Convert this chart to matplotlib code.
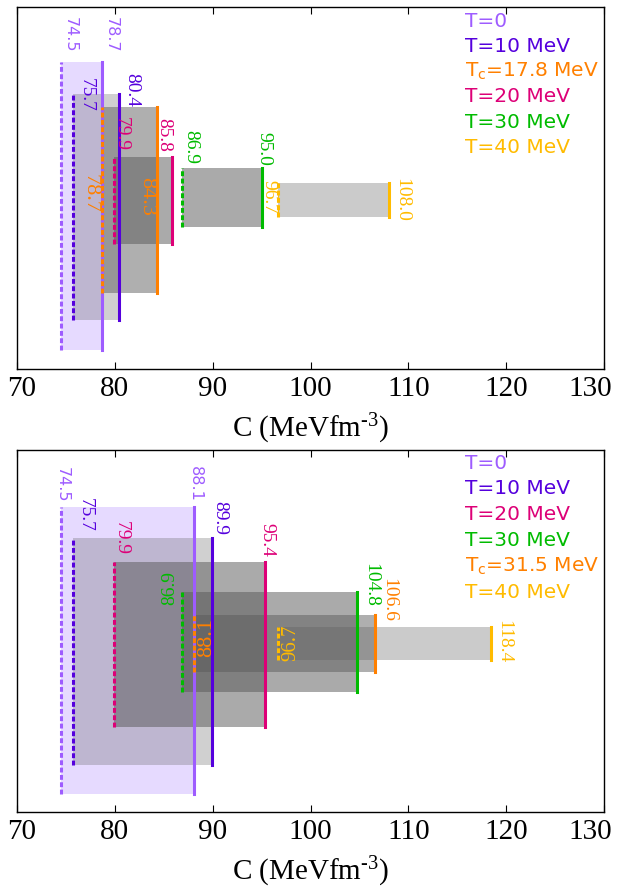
import matplotlib
matplotlib.use("Agg")
import matplotlib.pyplot as plt
from matplotlib.patches import Rectangle
from matplotlib.transforms import blended_transform_factory, ScaledTranslation

plt.rcParams["mathtext.fontset"] = "custom"
plt.rcParams["mathtext.rm"] = "Liberation Serif"
plt.rcParams["mathtext.it"] = "Liberation Serif:italic"

# ---- panel 1 ----
top_names = ["T=0", "T=10 MeV", "T$_\\mathrm{c}$=17.8 MeV", "T=20 MeV", "T=30 MeV", "T=40 MeV"]
top_lower = [74.5, 75.7, 78.7, 79.9, 86.9, 96.7]
top_upper = [78.7, 80.4, 84.3, 85.8, 95.0, 108.0]
top_colors = ["#9e5cff", "#5500dd", "#ff8000", "#dd0077", "#00bb00", "#ffbb00"]

# ---- panel 2 ----
bot_names = ["T=0", "T=10 MeV", "T=20 MeV", "T=30 MeV", "T$_\\mathrm{c}$=31.5 MeV", "T=40 MeV"]
bot_lower = [74.5, 75.7, 79.9, 86.9, 88.1, 96.7]
bot_upper = [88.1, 89.9, 95.4, 104.8, 106.6, 118.4]
bot_colors = ["#9e5cff", "#5500dd", "#dd0077", "#00bb00", "#ff8000", "#ffbb00"]

# vertical extent of each band (axes fraction) and its shading
top_band = [(0.052, 0.848), (0.135, 0.760), (0.210, 0.724), (0.345, 0.586), (0.392, 0.555), (0.420, 0.514)]
top_shade = [None, 0.28, 0.48, 0.51, 0.51, 0.31]
bot_band = [(0.050, 0.843), (0.130, 0.757), (0.235, 0.691), (0.331, 0.608), (0.387, 0.544), (0.420, 0.511)]
bot_shade = [None, 0.28, 0.51, 0.51, 0.48, 0.31]

# label placement: (x offset px, y frac, rotation, ha, va, size, serif?)
top_lab_lo = [(2, 0.873, -90, "left", "bottom", 11.5, False),
              (5, 0.804, -90, "left", "top", 14, True),
              (-3, 0.486, -90, "right", "center", 16, True),
              (-1, 0.696, -90, "left", "top", 14, True),
              (0, 0.660, -90, "left", "top", 14, True),
              (-1, 0.522, -90, "right", "top", 14, True)]
top_lab_hi = [(2, 0.873, -90, "left", "bottom", 11.5, False),
              (5, 0.818, -90, "left", "top", 14, True),
              (-1, 0.478, -90, "right", "center", 16, True),
              (1, 0.693, -90, "right", "top", 14, True),
              (2, 0.655, -90, "center", "top", 14, True),
              (4, 0.467, -90, "left", "center", 14, True)]
bot_lab_lo = [(1, 0.856, -90, "center", "bottom", 11.5, False),
              (4, 0.773, -90, "left", "bottom", 14, True),
              (-1, 0.710, -90, "left", "bottom", 14, True),
              (-4, 0.572, 90, "right", "bottom", 14, True),
              (3, 0.483, 90, "left", "center", 16, True),
              (3, 0.467, 90, "left", "center", 15, True)]
bot_lab_hi = [(1, 0.856, -90, "center", "bottom", 11.5, False),
              (0, 0.765, -90, "left", "bottom", 14, True),
              (1, 0.704, -90, "center", "bottom", 14, True),
              (5, 0.688, -90, "left", "top", 14, True),
              (5, 0.646, -90, "left", "top", 14, True),
              (5, 0.470, -90, "left", "center", 14, True)]

SERIF = "Liberation Serif"


def draw_panel(fig, ax, names, lower, upper, colors, band, shade, lab_lo, lab_hi, leg_top, leg_step):
    trans = blended_transform_factory(ax.transData, ax.transAxes)
    # boxes first, lines on top
    for lo, hi, (y0, y1), a in zip(lower, upper, band, shade):
        if a is None:
            r = Rectangle((lo, y0), hi - lo, y1 - y0, transform=trans,
                          facecolor="#e6daff", edgecolor="none", zorder=1)
        else:
            r = Rectangle((lo, y0), hi - lo, y1 - y0, transform=trans,
                          facecolor="0.35", alpha=a, edgecolor="none", zorder=2)
        ax.add_patch(r)
    for lo, hi, (y0, y1), c in zip(lower, upper, band, colors):
        ax.plot([lo, lo], [y0, y1], transform=trans, color=c, lw=2.2,
                dashes=(1.6, 0.8), solid_capstyle="butt", zorder=4)
        ax.plot([hi, hi], [y0, y1], transform=trans, color=c, lw=2.2, zorder=4)
    for vals, labs in ((lower, lab_lo), (upper, lab_hi)):
        for v, c, (dx, y, rot, ha, va, fs, serif) in zip(vals, colors, labs):
            ax.annotate(f"{v:.1f}", xy=(v, y), xycoords=trans, xytext=(dx, 0),
                        textcoords="offset pixels", rotation=rot, ha=ha, va=va,
                        fontsize=fs, color=c, family=SERIF if serif else "DejaVu Sans",
                        zorder=5)
    for i, (n, c) in enumerate(zip(names, colors)):
        ax.text(0.763, leg_top - i * leg_step, n, transform=ax.transAxes, color=c,
                fontsize=14.5, family="DejaVu Sans", math_fontfamily="dejavusans",
                ha="left", va="center")

    ax.set_xlim(70, 130)
    ax.set_ylim(0, 1)
    ax.set_yticks([])
    ax.set_xticks(range(70, 131, 10))
    ax.tick_params(axis="x", direction="in", top=True, length=5, width=0.8, pad=5,
                   labelsize=21)
    labels = ax.get_xticklabels()
    for lbl in labels:
        lbl.set_family(SERIF)
    # pull the end labels inside the figure
    labels[0].set_transform(labels[0].get_transform() + ScaledTranslation(5 / 100, 0, fig.dpi_scale_trans))
    labels[-1].set_transform(labels[-1].get_transform() + ScaledTranslation(-14 / 100, 0, fig.dpi_scale_trans))
    ax.set_xlabel("C (MeVfm$^{\\text{-}3}$)", fontsize=21, family=SERIF, labelpad=7)
    for s in ax.spines.values():
        s.set_linewidth(1.0)


fig = plt.figure(figsize=(6.21, 8.88), dpi=100)
ax1 = fig.add_axes([17 / 621, 1 - 369 / 888, 587 / 621, 362 / 888])
ax2 = fig.add_axes([17 / 621, 1 - 812 / 888, 587 / 621, 362 / 888])

draw_panel(fig, ax1, top_names, top_lower, top_upper, top_colors, top_band, top_shade,
           top_lab_lo, top_lab_hi, 0.960, 0.0695)
draw_panel(fig, ax2, bot_names, bot_lower, bot_upper, bot_colors, bot_band, bot_shade,
           bot_lab_lo, bot_lab_hi, 0.964, 0.0715)

fig.savefig("out.png", dpi=100)
